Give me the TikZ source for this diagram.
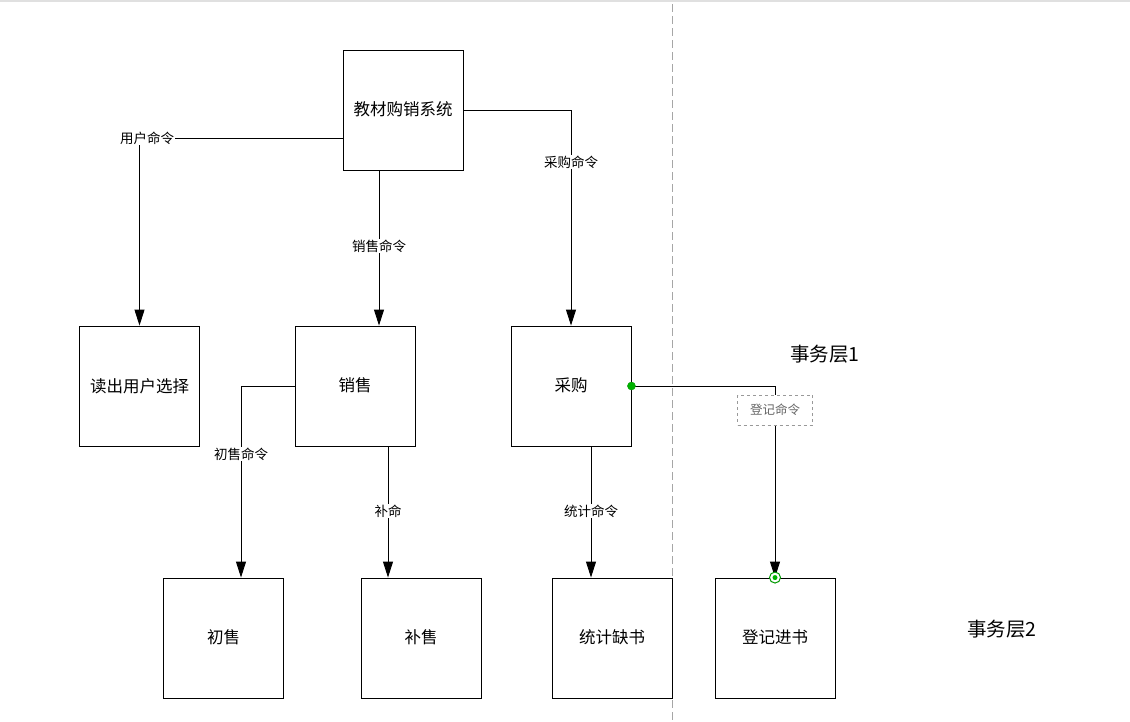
\documentclass[tikz,border=0pt]{standalone}
\usepackage{fontspec}
\setmainfont{Noto Sans CJK SC}
\usetikzlibrary{arrows.meta}
\begin{document}
\begin{tikzpicture}[x=1pt,y=-1pt,
  box/.style={draw=black, line width=0.9pt, minimum width=120pt, minimum height=120pt, inner sep=0pt, font=\fontsize{16.5}{16.5}\selectfont},
  conn/.style={draw=black, line width=0.9pt},
  arr/.style={conn, -{Triangle[length=16pt,width=10pt]}},
  lbl/.style={fill=white, inner sep=1pt, font=\fontsize{13.5}{13.5}\selectfont},
  layer/.style={font=\fontsize{19.5}{19.5}\selectfont},
  gdot/.style={circle, fill=green!70!black, draw=green!60!black, inner sep=0pt, minimum size=8pt},
]
\useasboundingbox (0,0) rectangle (1130,721);
\fill[white] (0,0) rectangle (1130,721);
\draw[black!12, line width=2pt] (0,1) -- (1130,1);
\coordinate (dtop) at (672,4);
\coordinate (dbot) at (672,721);
\draw[black!35, line width=1pt, dash pattern=on 8pt off 4pt] (dtop) -- (dbot);

\node[box] (sys) at (403,110) {\raisebox{3pt}{教材购销系统}};
\node[box] (rd) at (139.5,386) {读出用户选择};
\node[box] (xs) at (355,386) {\raisebox{3pt}{销售}};
\node[box] (cg) at (571,386) {\raisebox{3pt}{采购}};
\node[box] (cs) at (223.5,638) {\raisebox{3pt}{初售}};
\node[box] (bs) at (421,638) {\raisebox{3pt}{补售}};
\node[box] (tj) at (612,638) {\raisebox{3pt}{统计缺书}};
\node[box] (dj) at (775,638) {\raisebox{3pt}{登记进书}};

\draw[arr] ([yshift=-28pt]sys.west) -| (rd.north);
\draw[arr] ([xshift=-24pt]sys.south) -- ([xshift=24pt]xs.north);
\draw[arr] (sys.east) -| (cg.north);
\draw[arr] (xs.west) -| ([xshift=17.5pt]cs.north);
\draw[arr] ([xshift=33pt]xs.south) -- ([xshift=-33pt]bs.north);
\draw[arr] ([xshift=20pt]cg.south) -- ([xshift=-21pt]tj.north);
\draw[arr] (cg.east) -| (dj.north);

\node[lbl] (l1) at (147,138) {用户命令};
\node[lbl] (l2) at (379,246) {销售命令};
\node[lbl] (l3) at (571,162) {采购命令};
\node[lbl] (l4) at (241,454) {初售命令};
\node[lbl] (l5) at (388,511) {补命};
\node[lbl] (l6) at (591,511) {统计命令};
\node[fill=white, draw=black!40, dashed, line width=0.6pt, text=black!60, minimum width=75pt, minimum height=30pt, inner sep=0pt, font=\fontsize{12.5}{12.5}\selectfont] (l7) at (775,410) {登记命令};

\node[gdot] (g1) at (cg.east) {};
\node[circle, draw=green!60!black, fill=white, line width=1pt, minimum size=11pt, inner sep=0pt] (g2) at (dj.north) {};
\node[circle, fill=green!70!black, minimum size=5pt, inner sep=0pt] (g3) at (dj.north) {};

\node[layer] (t1) at (825,354) {事务层1};
\node[layer] (t2) at (1002,629) {事务层2};
\end{tikzpicture}
\end{document}
